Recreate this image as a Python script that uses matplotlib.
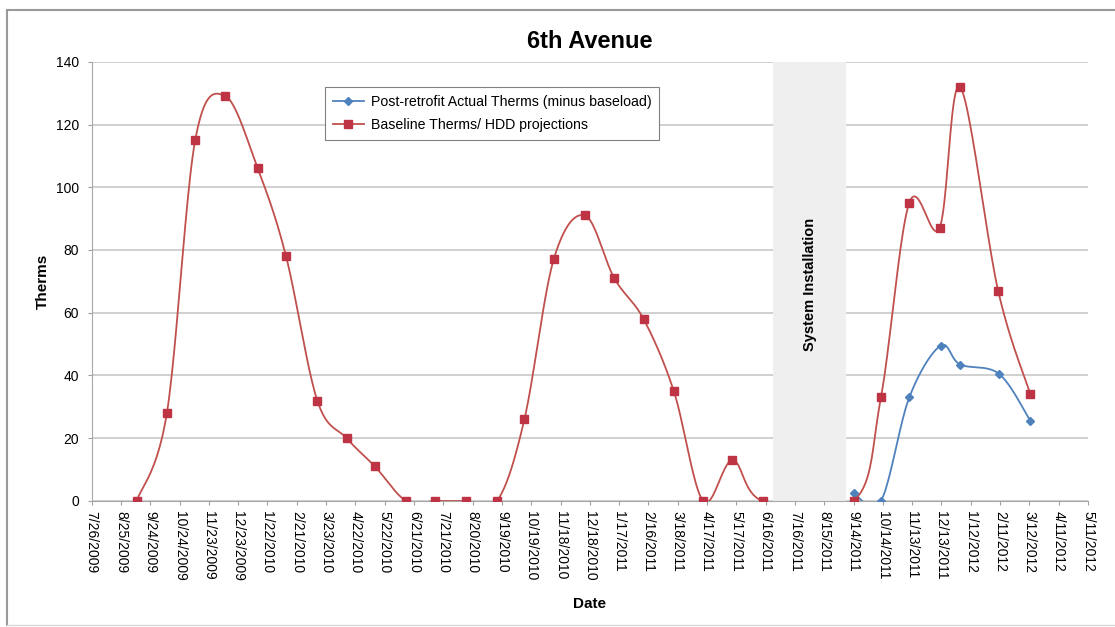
import numpy as np
import matplotlib
matplotlib.use("Agg")
import matplotlib.pyplot as plt
import matplotlib.dates as mdates
from matplotlib.lines import Line2D
from datetime import datetime

plt.rcParams['font.family'] = ['Liberation Sans', 'DejaVu Sans']

# monthly meter reads
baseline_dates = ['9/10/2009', '10/11/2009', '11/9/2009', '12/10/2009', '1/12/2010',
                  '2/10/2010', '3/14/2010', '4/13/2010', '5/12/2010', '6/13/2010',
                  '7/13/2010', '8/13/2010', '9/14/2010', '10/12/2010', '11/11/2010',
                  '12/13/2010', '1/12/2011', '2/11/2011', '3/14/2011', '4/13/2011',
                  '5/13/2011', '6/13/2011', '9/14/2011', '10/12/2011', '11/10/2011',
                  '12/11/2011', '1/1/2012', '2/9/2012', '3/13/2012']
baseline_therms = [0, 28, 115, 129, 106, 78, 32, 20, 11, 0,
                   0, 0, 0, 26, 77, 91, 71, 58, 35, 0,
                   13, 0, 0, 33, 95, 87, 132, 67, 34]

actual_dates = ['9/14/2011', '10/12/2011', '11/10/2011', '12/12/2011',
                '1/1/2012', '2/10/2012', '3/13/2012']
actual_therms = [2.4, 0, 33, 49.5, 43.5, 40.5, 25.5]

install_start = '6/23/2011'
install_end = '9/6/2011'

tick_labels = ['7/26/2009', '8/25/2009', '9/24/2009', '10/24/2009', '11/23/2009',
               '12/23/2009', '1/22/2010', '2/21/2010', '3/23/2010', '4/22/2010',
               '5/22/2010', '6/21/2010', '7/21/2010', '8/20/2010', '9/19/2010',
               '10/19/2010', '11/18/2010', '12/18/2010', '1/17/2011', '2/16/2011',
               '3/18/2011', '4/17/2011', '5/17/2011', '6/16/2011', '7/16/2011',
               '8/15/2011', '9/14/2011', '10/14/2011', '11/13/2011', '12/13/2011',
               '1/12/2012', '2/11/2012', '3/12/2012', '4/11/2012', '5/11/2012']


def to_num(dates):
    return mdates.date2num([datetime.strptime(d, '%m/%d/%Y') for d in dates])


def smooth(x, y, n=24):
    # bezier smoothing through every point (spreadsheet style "smoothed line")
    x = np.asarray(x, float)
    y = np.asarray(y, float)
    px = np.concatenate([[x[0]], x, [x[-1]]])
    py = np.concatenate([[y[0]], y, [y[-1]]])
    t = np.linspace(0, 1, n)[:, None]
    xs, ys = [], []
    for i in range(1, len(px) - 2):
        p0 = np.array([px[i], py[i]])
        p3 = np.array([px[i + 1], py[i + 1]])
        p1 = p0 + (np.array([px[i + 1], py[i + 1]]) - np.array([px[i - 1], py[i - 1]])) / 6
        p2 = p3 - (np.array([px[i + 2], py[i + 2]]) - p0) / 6
        seg = ((1 - t) ** 3) * p0 + 3 * ((1 - t) ** 2) * t * p1 + 3 * (1 - t) * t ** 2 * p2 + t ** 3 * p3
        xs.append(seg[:, 0])
        ys.append(seg[:, 1])
    return np.concatenate(xs), np.concatenate(ys)


red = '#C0504D'
red_mk = '#BE3444'
blue = '#4F81BD'

fig = plt.figure(figsize=(11.15, 6.27), dpi=100)
ax = fig.add_axes([0.0822, 0.201, 0.8936, 0.7005])

bx, by = to_num(baseline_dates), baseline_therms
ax_, ay = to_num(actual_dates), actual_therms

ax.axvspan(to_num([install_start])[0], to_num([install_end])[0],
           color='#EFEFEF', zorder=1, lw=0)
ax.text(to_num(['7/31/2011'])[0], 69, 'System Installation', rotation=90,
        ha='center', va='center', fontsize=10.5, fontweight='bold', zorder=2)

sx, sy = smooth(ax_, ay)
ax.plot(sx, sy, color=blue, lw=1.3, zorder=3)
ax.plot(ax_, ay, ls='none', marker='D', ms=3.8, color=blue, zorder=4)

sx, sy = smooth(bx, by)
ax.plot(sx, sy, color=red, lw=1.3, zorder=3)
ax.plot(bx, by, ls='none', marker='s', ms=5.2, color=red_mk, zorder=4)

ticks = to_num(tick_labels)
ax.set_xlim(ticks[0], ticks[-1])
ax.set_ylim(0, 140)
ax.set_xticks(ticks)
ax.set_xticklabels(tick_labels, rotation=-90, fontsize=10, va='top', ha='center')
ax.set_yticks(range(0, 141, 20))
ax.tick_params(axis='y', labelsize=10, length=3, color='#A0A0A0', pad=6)
ax.tick_params(axis='x', length=3, color='#A0A0A0', pad=4)

ax.set_axisbelow(True)
ax.grid(axis='y', color='#C8C8C8', lw=1.2)
for s in ['top', 'right']:
    ax.spines[s].set_visible(False)
ax.spines['left'].set_color('#A8A8A8')
ax.spines['bottom'].set_color('#A8A8A8')

ax.set_xlabel('Date', fontsize=11, fontweight='bold', labelpad=12)
ax.set_ylabel('Therms', fontsize=11, fontweight='bold', labelpad=4)
ax.set_title('6th Avenue', fontsize=17, fontweight='bold', pad=10)

handles = [
    Line2D([], [], color=blue, lw=1.3, marker='D', ms=3.8),
    Line2D([], [], color=red, lw=1.3, marker='s', ms=5.2, mfc=red_mk, mec=red_mk),
]
leg = ax.legend(handles, ['Post-retrofit Actual Therms (minus baseload)',
                          'Baseline Therms/ HDD projections'],
                loc='upper left', bbox_to_anchor=(0.234, 0.942), borderaxespad=0,
                fontsize=10.2, fancybox=False, framealpha=1, edgecolor='#808080',
                handlelength=2.2, handletextpad=0.5, borderpad=0.55, labelspacing=0.65)
leg.get_frame().set_linewidth(0.8)

# chart border
fig.add_artist(Line2D([7 / 1115, 7 / 1115], [1 - 10 / 627, 1 - 625 / 627],
                      color='#9A9A9A', lw=1.5, transform=fig.transFigure))
fig.add_artist(Line2D([7 / 1115, 1], [1 - 10 / 627, 1 - 10 / 627],
                      color='#9A9A9A', lw=1.5, transform=fig.transFigure))
fig.add_artist(Line2D([7 / 1115, 1], [1 - 625 / 627, 1 - 625 / 627],
                      color='#D8D8D8', lw=1, transform=fig.transFigure))

fig.savefig('out.png', dpi=100)
